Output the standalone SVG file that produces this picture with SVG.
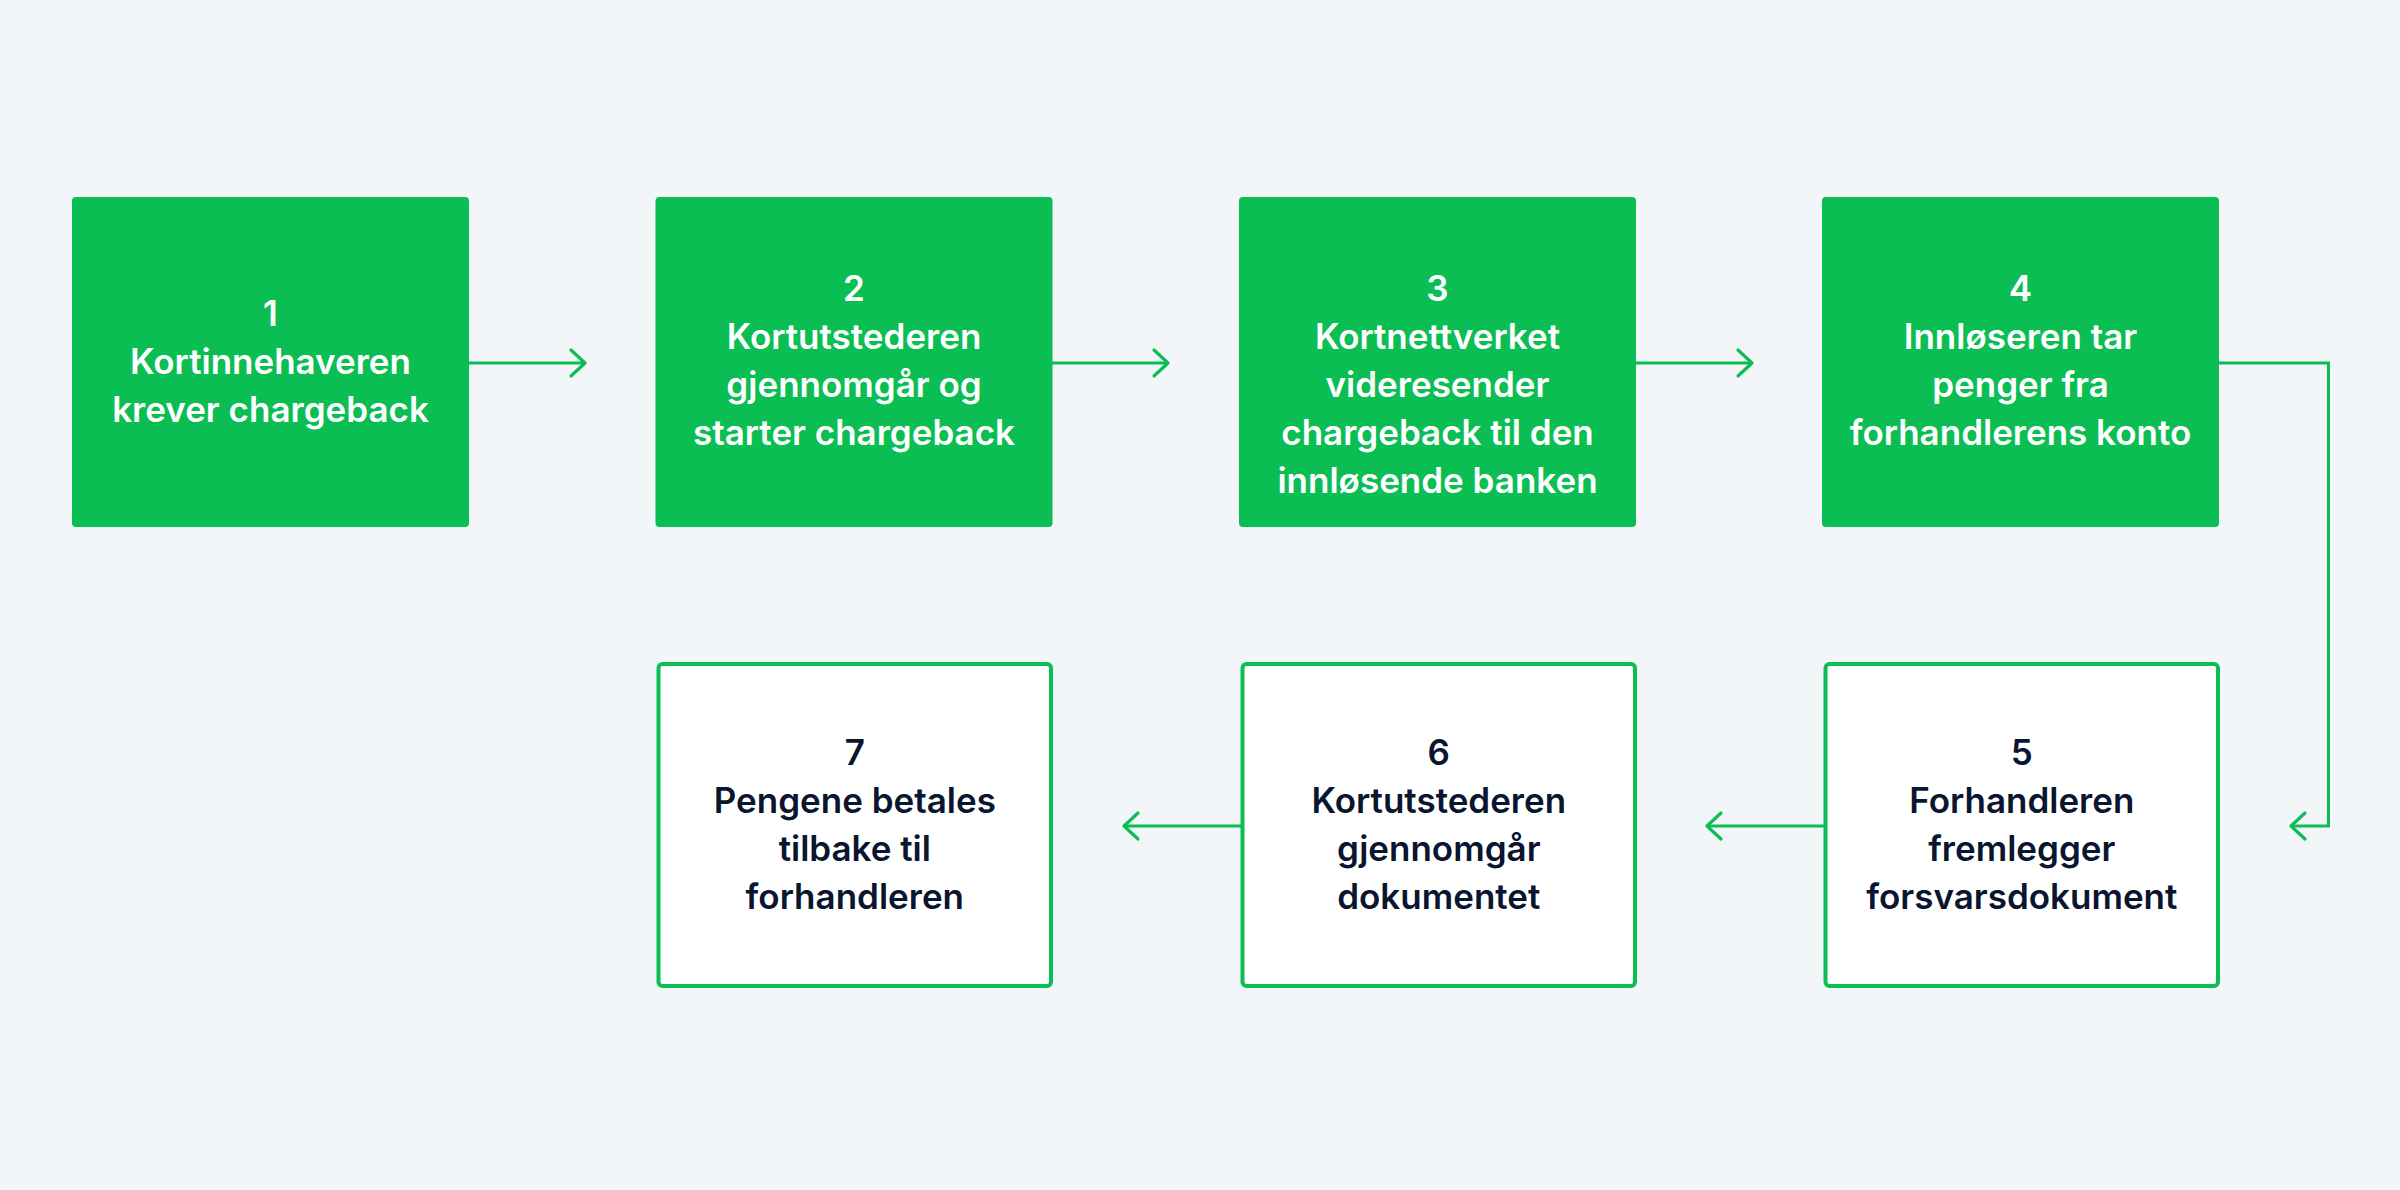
<svg xmlns="http://www.w3.org/2000/svg" width="2400" height="1190" viewBox="0 0 2400 1190">
<style>
.bg{fill:#F2F6F9}
.solid{fill:#0BBE53}
.outline{fill:#FFFFFF;stroke:#0BBE53;stroke-width:4}
.t{font-family:Inter,"Liberation Sans",sans-serif;font-weight:600;font-size:35px;text-anchor:middle}
.tw{fill:#FFFFFF}
.td{fill:#0A1530}
.conn{fill:none;stroke:#0BBE53;stroke-width:3}
</style>
<defs>
<marker id="chev" markerUnits="userSpaceOnUse" markerWidth="30" markerHeight="30" refX="0" refY="0" orient="auto" overflow="visible">
<path d="M-14,-13 L0,0 L-14,13" fill="none" stroke="#0BBE53" stroke-width="3.2" stroke-linecap="round" stroke-linejoin="round"/>
</marker>
</defs>
<rect class="bg" x="0" y="0" width="2400" height="1190"/>
<g id="connectors">
<path class="conn" d="M469,363 H585" marker-end="url(#chev)"/>
<path class="conn" d="M1052,363 H1168" marker-end="url(#chev)"/>
<path class="conn" d="M1636,363 H1752" marker-end="url(#chev)"/>
<path class="conn" d="M2219,363 H2328.5 V826 H2291" marker-end="url(#chev)"/>
<path class="conn" d="M1824,826 H1707" marker-end="url(#chev)"/>
<path class="conn" d="M1241,826 H1124" marker-end="url(#chev)"/>
</g>
<g id="node1">
<rect class="solid" x="72" y="197" width="397" height="330" rx="4"/>
<text class="t tw" x="270.5" y="326">1</text>
<text class="t tw" x="270.5" y="374">Kortinnehaveren</text>
<text class="t tw" x="270.5" y="422">krever chargeback</text>
</g>
<g id="node2">
<rect class="solid" x="655.5" y="197" width="397" height="330" rx="4"/>
<text class="t tw" x="854" y="301">2</text>
<text class="t tw" x="854" y="349">Kortutstederen</text>
<text class="t tw" x="854" y="397">gjennomgår og</text>
<text class="t tw" x="854" y="445">starter chargeback</text>
</g>
<g id="node3">
<rect class="solid" x="1239" y="197" width="397" height="330" rx="4"/>
<text class="t tw" x="1437.5" y="301">3</text>
<text class="t tw" x="1437.5" y="349">Kortnettverket</text>
<text class="t tw" x="1437.5" y="397">videresender</text>
<text class="t tw" x="1437.5" y="445">chargeback til den</text>
<text class="t tw" x="1437.5" y="493">innløsende banken</text>
</g>
<g id="node4">
<rect class="solid" x="1822" y="197" width="397" height="330" rx="4"/>
<text class="t tw" x="2020.5" y="301">4</text>
<text class="t tw" x="2020.5" y="349">Innløseren tar</text>
<text class="t tw" x="2020.5" y="397">penger fra</text>
<text class="t tw" x="2020.5" y="445">forhandlerens konto</text>
</g>
<g id="node5">
<rect class="outline" x="1825.5" y="664" width="392.5" height="322" rx="4"/>
<text class="t td" x="2021.8" y="765">5</text>
<text class="t td" x="2021.8" y="813">Forhandleren</text>
<text class="t td" x="2021.8" y="861">fremlegger</text>
<text class="t td" x="2021.8" y="909">forsvarsdokument</text>
</g>
<g id="node6">
<rect class="outline" x="1242.5" y="664" width="392.5" height="322" rx="4"/>
<text class="t td" x="1438.8" y="765">6</text>
<text class="t td" x="1438.8" y="813">Kortutstederen</text>
<text class="t td" x="1438.8" y="861">gjennomgår</text>
<text class="t td" x="1438.8" y="909">dokumentet</text>
</g>
<g id="node7">
<rect class="outline" x="658.5" y="664" width="392.5" height="322" rx="4"/>
<text class="t td" x="854.8" y="765">7</text>
<text class="t td" x="854.8" y="813">Pengene betales</text>
<text class="t td" x="854.8" y="861">tilbake til</text>
<text class="t td" x="854.8" y="909">forhandleren</text>
</g>
</svg>
